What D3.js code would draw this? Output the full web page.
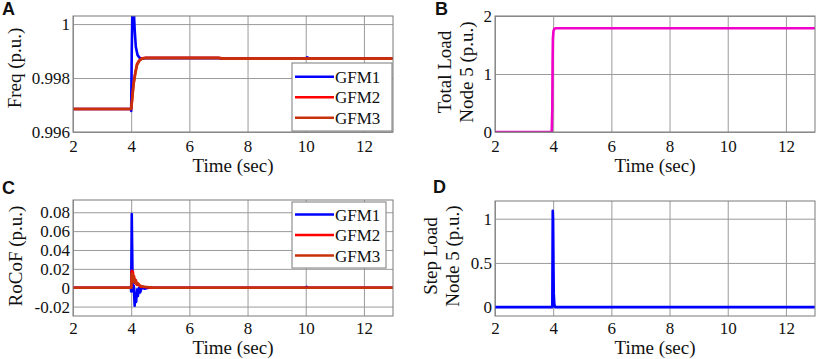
<!DOCTYPE html>
<html><head><meta charset="utf-8">
<script src="https://cdn.jsdelivr.net/npm/d3@7"></script>
<style>body{margin:0;background:#fff}svg{display:block}</style>
</head><body><svg id="c" width="816" height="359"></svg>
<script>
// ---------- data ----------
const xTicks = [2, 4, 6, 8, 10, 12];
const seriesNames = ["GFM1", "GFM2", "GFM3"];

// Panel A: frequency (p.u.) — [time, value]
const freqGFM1 = [[2,0.99685],[3.98,0.99685],[4.0,0.99678],[4.02,0.9990],[4.04,1.0004],[4.09,1.0005],[4.12,0.9998],[4.16,0.99915],[4.22,0.99885],[4.3,0.99874],[4.4,0.99872],[4.5,0.99874],[7,0.99874],[7.1,0.99872],[10,0.99872],[10.05,0.99877],[10.12,0.99872],[13,0.99872]];
const freqGFM2 = [[2,0.99685],[4.0,0.99685],[4.03,0.9972],[4.08,0.9978],[4.14,0.9982],[4.2,0.99852],[4.28,0.99866],[4.37,0.99873],[4.5,0.99875],[7,0.99875],[7.2,0.99872],[13,0.99872]];
const freqGFM3 = [[2,0.99685],[4.0,0.99685],[4.03,0.99715],[4.08,0.99775],[4.14,0.99815],[4.2,0.99848],[4.28,0.99864],[4.37,0.99872],[4.5,0.99874],[7,0.99874],[7.2,0.99872],[13,0.99872]];
const freqTicks = [0.996, 0.998, 1];
const freqDomain = [0.996, 1.0003];

// Panel B: total load node 5 (p.u.)
const totalLoad = [[2,0],[3.95,0],[3.97,0.4],[3.98,1.2],[3.99,1.6],[4.01,1.74],[4.04,1.78],[4.1,1.79],[13,1.79]];
const totalTicks = [0, 1, 2];
const totalDomain = [0, 2];

// Panel C: RoCoF (p.u.)
const rocofGFM1 = [[2,0],[3.99,0],[4.0,-0.004],[4.02,0.078],[4.03,0.05],[4.05,0.0],[4.07,-0.004],[4.09,0.002],[4.12,-0.019],[4.14,-0.006],[4.17,-0.015],[4.2,-0.002],[4.23,-0.009],[4.27,0.0],[4.31,-0.005],[4.36,0.0],[4.45,-0.001],[4.6,0],[10,0],[10.03,0.001],[10.08,0],[13,0]];
const rocofGFM2 = [[2,0],[4.0,0],[4.02,0.018],[4.04,0.012],[4.06,0.017],[4.08,0.008],[4.1,0.012],[4.13,0.005],[4.16,0.008],[4.2,0.003],[4.25,0.004],[4.32,0.001],[4.45,0.0008],[4.7,0],[13,0]];
const rocofGFM3 = [[2,0],[4.0,0],[4.02,0.015],[4.05,0.01],[4.07,0.013],[4.1,0.006],[4.13,0.009],[4.17,0.004],[4.22,0.005],[4.3,0.002],[4.45,0.001],[4.8,0],[13,0]];
const rocofTicks = [-0.02, 0, 0.02, 0.04, 0.06, 0.08];
const rocofDomain = [-0.03, 0.093];

// Panel D: step load node 5 (p.u.)
const stepLoad = [[2,0],[3.97,0],[3.985,1.09],[3.995,1.0],[4.01,0.45],[4.02,0.15],[4.04,0.03],[4.07,0],[13,0]];
const stepTicks = [0, 0.5, 1];
const stepDomain = [-0.1, 1.2];

const xDomain = [2, 13];
const colors = {GFM1:"#0000ff", GFM2:"#ff0000", GFM3:"#c8320a", total:"#f000c8", step:"#0000ff"};

// ---------- drawing ----------
const svg = d3.select("#c");
const serif = "'Liberation Serif','Times New Roman',serif";

function panel(o) {
  const x = d3.scaleLinear().domain(xDomain).range([o.left, o.right]);
  const y = d3.scaleLinear().domain(o.yDomain).range([o.bottom, o.top]);
  const g = svg.append("g");
  g.append("rect").attr("x", o.left).attr("y", o.top).attr("width", o.right-o.left).attr("height", o.bottom-o.top).attr("fill", "#fff");
  // grid
  g.append("g").attr("transform", `translate(0,${o.bottom})`)
    .call(d3.axisBottom(x).tickValues(xTicks).tickSize(-(o.bottom-o.top)).tickFormat(""))
    .call(s => { s.select(".domain").remove(); s.selectAll("line").attr("stroke", "#9a9a9a").attr("stroke-width", 1); });
  g.append("g").attr("transform", `translate(${o.left},0)`)
    .call(d3.axisLeft(y).tickValues(o.yTicks).tickSize(-(o.right-o.left)).tickFormat(""))
    .call(s => { s.select(".domain").remove(); s.selectAll("line").attr("stroke", "#9a9a9a").attr("stroke-width", 1); });
  // tick labels
  const xa = g.append("g").attr("transform", `translate(0,${o.bottom})`)
    .call(d3.axisBottom(x).tickValues(xTicks).tickSize(0).tickPadding(o.tickPad).tickFormat(d3.format("d")));
  xa.select(".domain").remove();
  xa.selectAll("text").attr("font-family", serif).attr("font-size", 17).attr("fill", "#111");
  const ya = g.append("g").attr("transform", `translate(${o.left},0)`)
    .call(d3.axisLeft(y).tickValues(o.yTicks).tickSize(0).tickPadding(3).tickFormat(o.yFmt));
  ya.select(".domain").remove();
  ya.selectAll("text").attr("font-family", serif).attr("font-size", 17).attr("fill", "#111");
  // clip
  const cid = "clip" + o.id;
  svg.append("clipPath").attr("id", cid).append("rect")
    .attr("x", o.left).attr("y", o.top).attr("width", o.right-o.left).attr("height", o.bottom-o.top);
  const line = d3.line().x(d => x(d[0])).y(d => y(d[1]));
  o.series.forEach(s => {
    g.append("path").attr("d", line(s.data)).attr("fill", "none").attr("stroke", s.color)
      .attr("stroke-width", 2.6).attr("stroke-linejoin", "round").attr("clip-path", `url(#${cid})`);
  });
  // frame
  g.append("rect").attr("x", o.left).attr("y", o.top).attr("width", o.right-o.left).attr("height", o.bottom-o.top)
    .attr("fill", "none").attr("stroke", "#7a7a7a").attr("stroke-width", 1);
  // x title
  g.append("text").attr("x", (o.left+o.right)/2).attr("y", o.bottom + o.titleGap).attr("text-anchor", "middle")
    .attr("font-family", serif).attr("font-size", 19).attr("fill", "#111").text("Time (sec)");
  // y title
  o.yTitle.forEach((t, i) => {
    g.append("text").attr("transform", `translate(${o.yTitleX[i]},${o.yTitleY}) rotate(-90)`)
      .attr("text-anchor", "middle").attr("font-family", serif).attr("font-size", 19).attr("fill", "#111").text(t);
  });
  // panel letter
  svg.append("text").attr("x", o.letterX).attr("y", o.letterY).attr("font-family", "'Liberation Sans',Arial,sans-serif")
    .attr("font-weight", "bold").attr("font-size", 18).attr("fill", "#111").text(o.letter);
  // legend
  if (o.legend) {
    const L = o.legend;
    g.append("rect").attr("x", L.x).attr("y", L.y).attr("width", L.w).attr("height", L.h)
      .attr("fill", "#fff").attr("stroke", "#7a7a7a").attr("stroke-width", 1);
    o.series.forEach((s, i) => {
      const yy = L.y + L.first + i * L.step;
      g.append("line").attr("x1", L.x + 3).attr("x2", L.x + 42).attr("y1", yy).attr("y2", yy)
        .attr("stroke", s.color).attr("stroke-width", 2.6);
      g.append("text").attr("x", L.x + 43).attr("y", yy + 6).attr("font-family", serif).attr("font-size", 17)
        .attr("fill", "#111").text(s.name);
    });
  }
}

const fmtTrim = d => String(+d.toFixed(3));

panel({id:"A", letter:"A", letterX:2, letterY:15, left:73, right:393, top:16, bottom:132, titleGap:40, tickPad:8,
  yDomain:freqDomain, yTicks:freqTicks, yFmt:d => d === 1 ? "1" : d3.format(".3f")(d),
  yTitle:["Freq (p.u.)"], yTitleX:[21], yTitleY:68,
  series:[{name:seriesNames[0], data:freqGFM1, color:colors.GFM1},
          {name:seriesNames[1], data:freqGFM2, color:colors.GFM2},
          {name:seriesNames[2], data:freqGFM3, color:colors.GFM3}],
  legend:{x:292, y:63, w:100, h:68, first:13.7, step:20.5}});

panel({id:"B", letter:"B", letterX:435, letterY:15, left:495, right:815, top:16, bottom:132, titleGap:40, tickPad:8,
  yDomain:totalDomain, yTicks:totalTicks, yFmt:d3.format("d"),
  yTitle:["Total Load", "Node 5 (p.u.)"], yTitleX:[451, 473], yTitleY:72,
  series:[{name:"Total", data:totalLoad, color:colors.total}]});

panel({id:"C", letter:"C", letterX:2, letterY:194, left:73, right:393, top:200, bottom:316, titleGap:38, tickPad:6,
  yDomain:rocofDomain, yTicks:rocofTicks, yFmt:fmtTrim,
  yTitle:["RoCoF (p.u.)"], yTitleX:[22], yTitleY:256,
  series:[{name:seriesNames[0], data:rocofGFM1, color:colors.GFM1},
          {name:seriesNames[1], data:rocofGFM2, color:colors.GFM2},
          {name:seriesNames[2], data:rocofGFM3, color:colors.GFM3}],
  legend:{x:292, y:202, w:94, h:66, first:12.5, step:20.5}});

panel({id:"D", letter:"D", letterX:433, letterY:193, left:495, right:815, top:201, bottom:316, titleGap:38, tickPad:6,
  yDomain:stepDomain, yTicks:stepTicks, yFmt:fmtTrim,
  yTitle:["Step Load", "Node 5 (p.u.)"], yTitleX:[437, 459], yTitleY:256,
  series:[{name:"Step", data:stepLoad, color:colors.step}]});
</script></body></html>
